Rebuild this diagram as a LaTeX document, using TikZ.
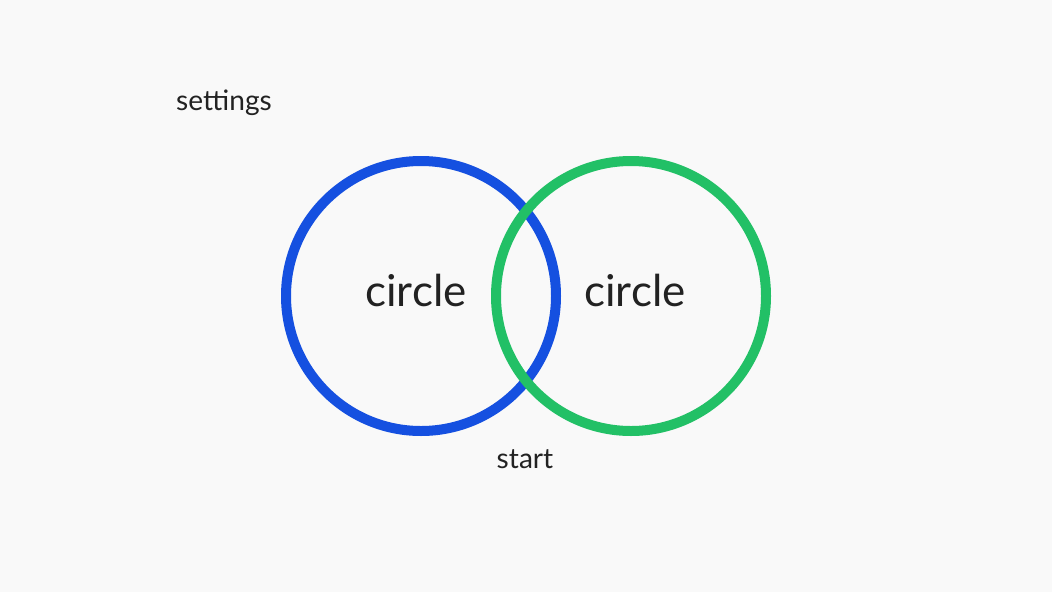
\documentclass[tikz,border=0pt]{standalone}
\usepackage{fontspec}
\setmainfont{Lato}
\begin{document}
\begin{tikzpicture}[x=0.02cm,y=-0.02cm]
\definecolor{bg}{HTML}{F9F9F9}
\definecolor{cblue}{HTML}{1550E0}
\definecolor{cgreen}{HTML}{22C066}
\definecolor{txt}{HTML}{222222}
\tikzset{ring/.style={line width=0.2cm},lbl/.style={text=txt,inner sep=0pt}}
\fill[bg] (0,0) rectangle (1052,592);
\useasboundingbox (0,0) rectangle (1052,592);
\draw[ring,cblue] (421,296) circle[radius=135*0.02cm];
\draw[ring,cgreen] (631,296) circle[radius=135*0.02cm];
\node[lbl,font=\fontsize{25}{30}\selectfont] (c1) at (416,290) {circle};
\node[lbl,font=\fontsize{25}{30}\selectfont] (c2) at (635,290) {circle};
\node[lbl,font=\fontsize{16}{19}\selectfont] (s) at (224,103) {settings};
\node[lbl,font=\fontsize{16}{19}\selectfont] (st) at (525,459) {start};
\end{tikzpicture}
\end{document}
